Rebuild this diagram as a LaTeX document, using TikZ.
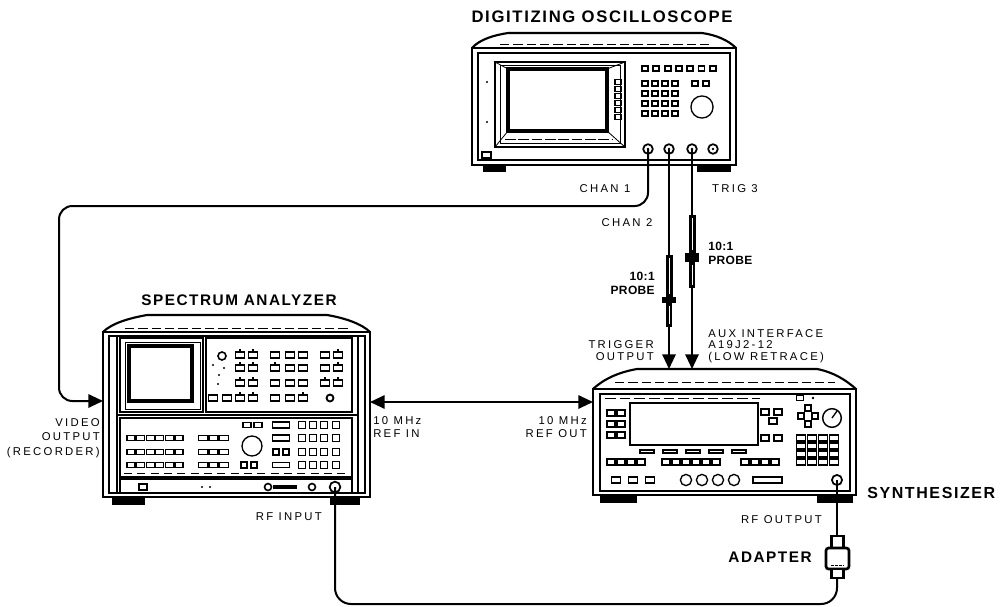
\documentclass[tikz,border=0pt]{standalone}
\usepackage{fontspec}
\setmainfont{Liberation Sans}
\newfontfamily\lblfont[LetterSpace=20]{Liberation Sans}
\newfontfamily\ttlfont[LetterSpace=10]{Liberation Sans}
\newfontfamily\plfont[LetterSpace=3]{Liberation Sans}
\usetikzlibrary{arrows.meta}
\newcommand{\mykey}[4]{\draw[kbtn] ({#1-#3/2},{#2-#4/2}) rectangle ({#1+#3/2},{#2+#4/2});}
\tikzset{
  lbl/.style={font=\lblfont\fontsize{8.5}{#1}\selectfont, inner sep=0pt},
  lbl/.default=9,
  ttl/.style={font=\ttlfont\bfseries\fontsize{#1}{#1}\selectfont, inner sep=0pt},
  plbl/.style={font=\plfont\bfseries\fontsize{9}{10.5}\selectfont, inner sep=0pt},
  cable/.style={line width=1.5pt},
  arr/.style={-{Triangle[width=10pt,length=11pt]}},
  darr/.style={{Triangle[width=10pt,length=11pt]}-{Triangle[width=10pt,length=11pt]}},
  outl/.style={line width=2.2pt},
  inl/.style={line width=0.9pt},
  kbtn/.style={line width=0.9pt},
  bkbtn/.style={line width=1.4pt},
  lid/.style={line width=1.6pt, line join=round},
}
\begin{document}
\begin{tikzpicture}[x=0.75pt,y=-0.75pt]
\useasboundingbox (0,0) rectangle (1004,607);

% ================= OSCILLOSCOPE =================
\draw[lid] (472,48) .. controls (480,39) and (495,35) .. (508,33) -- (702,33) .. controls (716,35) and (728,40) .. (736,48);
\draw[line width=0.5pt, dash pattern=on 7pt off 3pt] (500,44) -- (712,44);
\draw[outl] (472,48) rectangle (736,165);
\draw[inl] (478,53) rectangle (730,160);
\fill (483,165) rectangle (506,172);
\fill (697,165) rectangle (731,172);
% screen
\draw[inl] (495,62) rectangle (625,147);
\draw[line width=0.6pt] (500,65) rectangle (620,143);
\draw[line width=3pt] (508,69) rectangle (607,131);
\draw[line width=0.6pt] (495,62) -- (508,69) (625,62) -- (607,69) (495,147) -- (508,131) (625,147) -- (607,131);
\draw[line width=0.5pt, dash pattern=on 8pt off 2pt] (505,139) -- (612,139);
\foreach \j in {0,...,5} {\mykey{618}{82+\j*7}{6}{5}}
% keys
\foreach \i in {0,...,6} {\draw[bkbtn] ({642+\i*11.3},66) rectangle ++(6,5);}
\foreach \i in {0,...,3} {\foreach \j in {0,...,3} {\draw[bkbtn] ({642+\i*10},{81+\j*10}) rectangle ++(6,5);}}
\draw[bkbtn] (692,81) rectangle ++(6,5);
\draw[bkbtn] (703,81) rectangle ++(6,5);
\draw[line width=1pt] (702,107) circle (8.3pt);
\draw[line width=1pt] (482,152) rectangle (491,158);
\fill (487,82) circle (0.9pt);
\fill (487,122) circle (0.9pt);
% connectors
\coordinate (ch1) at (648,149);
\coordinate (ch2) at (669,149);
\coordinate (tr3) at (692,149);
\foreach \x in {648,669,692,713} {\draw[line width=1.3pt] (\x,149) circle (3.6pt); \fill (\x,149) circle (1pt);}

% ================= SPECTRUM ANALYZER =================
\draw[lid] (103,332) .. controls (112,323) and (130,318) .. (147,315) -- (327,315) .. controls (345,318) and (362,324) .. (370,332);
\draw[line width=0.5pt, dash pattern=on 7pt off 3pt] (125,328) -- (350,328);
\draw[outl] (103,332) rectangle (370,497);
\draw[inl] (109,336) rectangle (365,493);
\draw[line width=1.4pt] (117,336) -- (117,493);
\draw[line width=1.4pt] (358,336) -- (358,493);
\draw[line width=1.4pt] (117,415) -- (358,415);
\fill (112,497) rectangle (145,505);
\fill (330,497) rectangle (360,505);
% screen module
\draw[inl] (120,338) rectangle (203,412);
\draw[line width=0.6pt] (125,342) rectangle (200,409);
\draw[line width=3pt] (129,346) rectangle (192,401);
% upper key panel
\draw[inl] (206,338) rectangle (352,412);
\foreach \x in {240,253,275,290,303,325,338} {\foreach \y in {355,368,383} {\mykey{\x}{\y}{9}{6}}}
\foreach \x in {213,227,240,253,275,290,303} {\mykey{\x}{398}{9}{6}}
\foreach \x in {240,253} {\foreach \y in {355,368,383,398} {\draw[line width=0.9pt] (\x,{\y-3}) -- (\x,{\y-6});}}
\foreach \p in {(338,355),(338,368),(275,368),(325,383),(338,383),(303,398)} {\draw[line width=0.9pt] \p ++(0,-3) -- ++(0,-3);}
\draw[line width=1.2pt] (222,356) circle (3pt);
\draw[line width=1.4pt] (330,398) circle (2.6pt);
\foreach \p in {(213,365),(224,368),(219,375),(218,384)} {\fill \p circle (0.8pt);}
% lower key panel
\draw[inl] (120,418) rectangle (352,477);
\foreach \y in {438,452,465} {\foreach \i in {0,...,5} {\mykey{131+\i*9.6}{\y}{8}{5}} \foreach \i in {0,1,2} {\mykey{203+\i*10.5}{\y}{9}{5}}}
\mykey{247}{425}{8}{5}
\mykey{258}{425}{8}{5}
\draw[line width=1pt] (252,446) circle (7.5pt);
\foreach \y in {425,438,452,465} {\foreach \x in {302,313,324,336} {\mykey{\x}{\y}{7}{7}}}
\mykey{281}{425}{17}{6}
\mykey{281}{438}{17}{6}
\mykey{276}{452}{6}{6}
\mykey{286}{452}{6}{6}
\mykey{281}{465}{17}{5}
\mykey{244}{465}{6}{6}
\mykey{254}{465}{6}{6}
\draw[line width=0.5pt, dash pattern=on 6pt off 4pt] (124,473) -- (348,473);
% bottom strip
\draw[inl] (120,479) rectangle (352,493);
\draw[line width=1.3pt] (139,484) rectangle (147,490);
\fill (202,487) circle (0.9pt);
\fill (210,487) circle (0.9pt);
\draw[line width=1.2pt] (268,487) circle (2.6pt);
\draw[line width=3pt] (273,487) -- (297,487);
\draw[line width=1.2pt] (312,487) circle (2.6pt);
\coordinate (rfin) at (335,487);
\draw[line width=1.3pt] (rfin) circle (4pt);
\coordinate (sain) at (103,401);
\coordinate (refin) at (370,402);

% ================= SYNTHESIZER =================
\draw[lid] (593,389) .. controls (605,378) and (620,372) .. (637,369) -- (817,369) .. controls (833,372) and (846,380) .. (856,389);
\draw[line width=0.5pt, dash pattern=on 7pt off 3pt] (615,382) -- (835,382);
\draw[outl] (593,389) rectangle (856,495);
\draw[inl] (600,394) rectangle (850,491);
\draw[line width=0.5pt, dash pattern=on 8pt off 3pt] (605,398) -- (760,398);
\fill (600,495) rectangle (637,503);
\fill (817,495) rectangle (853,503);
\draw[line width=1.2pt] (630,403) rectangle (758,445);
\foreach \x in {611,621} {\foreach \y in {413,424,435} {\mykey{\x}{\y}{8}{6}}}
\foreach \i in {0,...,4} {\draw[line width=0.8pt] ({640+\i*23},450) rectangle ++(14,3);}
\foreach \i in {0,...,3} {\mykey{611+\i*10}{462}{8}{6}}
\foreach \i in {0,...,5} {\mykey{666+\i*10}{462}{8}{6}}
\foreach \i in {0,...,3} {\mykey{745+\i*10}{462}{8}{6}}
\foreach \x in {616,633,650} {\mykey{\x}{480}{9}{6}}
\foreach \x in {686,702,718,734} {\draw[line width=1pt] (\x,480) circle (4.2pt);}
\draw[line width=1pt] (753,477) rectangle (782,483);
\mykey{765}{412}{8}{6}
\mykey{778}{412}{8}{6}
\mykey{773}{421}{8}{6}
\mykey{765}{438}{8}{6}
\mykey{778}{438}{8}{6}
\mykey{800}{398}{7}{5}
\fill (813,398) circle (1pt);
\mykey{808}{408}{6}{6}
\mykey{801}{416}{6}{6}
\mykey{815}{416}{6}{6}
\mykey{808}{424}{6}{6}
\draw[line width=1.1pt] (832,418) circle (7pt);
\draw[line width=1pt] (832,418) -- (837,411);
\foreach \i in {0,...,3} {\foreach \j in {0,...,3} {\mykey{801+\i*11}{438+\j*8}{9}{6}}}
\coordinate (rfout) at (837,480);
\draw[line width=1.3pt] (rfout) circle (3.8pt);
\coordinate (refout) at (593,402);
\coordinate (tr2in) at (669,369);
\coordinate (tr3in) at (692,369);

% ================= CABLES =================
\draw[cable, arr, rounded corners=10pt] (ch1) |- (59,206) |- (sain);
\draw[cable, arr] (ch2) -- (tr2in);
\draw[cable, arr] (tr3) -- (tr3in);
\draw[cable, darr] (refin) -- (refout);
\coordinate (adtop) at (837,535);
\coordinate (adbot) at (837,578);
\draw[cable] (adtop) -- (rfout);
\draw[cable, rounded corners=12pt] (rfin) -- (335,604) -- (837,604) -- (adbot);

% probes
\fill (665.5,255) rectangle (672.5,297);
\fill (662,297) rectangle (676,303);
\fill (666,303) rectangle (672,327);
\draw[white, line width=0.5pt] (669,258) -- (669,294) (669,306) -- (669,324);
\fill (688.5,215) rectangle (695.5,253);
\fill (685,253) rectangle (699,262);
\fill (689,262) rectangle (695,288);
\draw[white, line width=0.5pt] (692,218) -- (692,250) (692,265) -- (692,285);

% adapter
\draw[line width=2pt, fill=white] (831.5,536) rectangle (843.5,548);
\draw[line width=2pt, fill=white, rounded corners=2pt] (826,548) rectangle (849,569);
\draw[line width=2pt, fill=white] (831.5,569) rectangle (843.5,578);
\draw[line width=0.6pt, dash pattern=on 2pt off 1pt] (831,565) -- (844,565);

% ================= LABELS =================
\node[ttl=12.5] (tosc) at (602,17) {DIGITIZING OSCILLOSCOPE};
\node[ttl=11.5] (tsa) at (239,300) {SPECTRUM ANALYZER};
\node[ttl=12, anchor=west] (tsyn) at (867,493) {SYNTHESIZER};
\node[ttl=11.5, anchor=east] (tad) at (812,557) {ADAPTER};
\node[lbl] (lch1) at (605,189) {CHAN 1};
\node[lbl] (ltr3) at (735,189) {TRIG 3};
\node[lbl] (lch2) at (627,223) {CHAN 2};
\node[plbl, anchor=east, align=right] (lp2) at (655,283) {10:1\\PROBE};
\node[plbl, anchor=west, align=left] (lp3) at (708,253) {10:1\\PROBE};
\node[lbl=9, anchor=east, align=right] (ltrig) at (654,351) {TRIGGER\\OUTPUT};
\node[lbl=8.7, anchor=west, align=left] (laux) at (708,346) {AUX INTERFACE\\A19J2-12\\(LOW RETRACE)};
\node[lbl=9.8, anchor=west, align=left] (lrefin) at (373,427) {10 MHz\\REF IN};
\node[lbl=9.8, anchor=east, align=right] (lrefout) at (587,427) {10 MHz\\REF OUT};
\node[lbl=10.8, anchor=east, align=right] (lvid) at (100,438) {VIDEO\\OUTPUT\\(RECORDER)};
\node[lbl, anchor=east] (lrfin) at (322,517) {RF INPUT};
\node[lbl, anchor=east] (lrfout) at (822,520) {RF OUTPUT};
\end{tikzpicture}
\end{document}
